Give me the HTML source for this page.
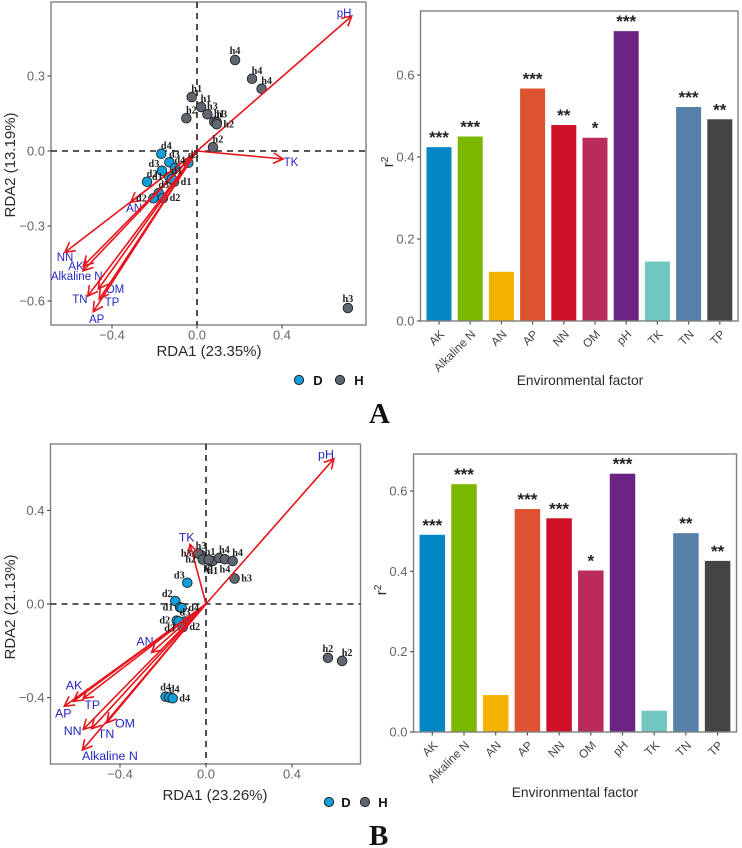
<!DOCTYPE html>
<html>
<head>
<meta charset="utf-8">
<title>RDA ordination and environmental factor r-squared charts</title>
<style>
html,body{margin:0;padding:0;background:#fff;}
svg{display:block;filter:blur(0.3px);}
text{font-family:"Liberation Sans",sans-serif;}
.tick{font-size:13px;fill:#666;}
.title{font-size:15px;fill:#2a2a2a;}
.xcat{font-size:11.8px;fill:#444;}
.pt{font-family:"Liberation Serif",serif;font-size:10.2px;font-weight:bold;fill:#222;}
.env{fill:#2626c4;}
.stars{font-size:17px;font-weight:bold;fill:#222;}
.panel-letter{font-family:"Liberation Serif",serif;font-size:29px;font-weight:bold;fill:#111;}
.legend{font-size:13px;font-weight:bold;fill:#111;}
</style>
</head>
<body>
<svg id="fig" xmlns="http://www.w3.org/2000/svg" width="742" height="848" viewBox="0 0 742 848">
  <rect x="0" y="0" width="742" height="848" fill="#fff"/>
  <text class="panel-letter" x="369" y="423">A</text>
  <text class="panel-letter" x="369" y="845">B</text>
  <circle cx="299" cy="380" r="4.6" fill="#119fdc" stroke="#222"/>
  <text class="legend" x="318" y="385" text-anchor="middle">D</text>
  <circle cx="340" cy="380" r="4.6" fill="#5f6670" stroke="#222"/>
  <text class="legend" x="359" y="385" text-anchor="middle">H</text>
  <circle cx="329" cy="802" r="4.6" fill="#119fdc" stroke="#222"/>
  <text class="legend" x="346" y="807" text-anchor="middle">D</text>
  <circle cx="365" cy="802" r="4.6" fill="#5f6670" stroke="#222"/>
  <text class="legend" x="383" y="807" text-anchor="middle">H</text>
</svg>
<script>
// ---------- Panel A ordination ----------
const aEnvNames = ['pH','TK','AN','NN','AK','Alkaline N','TN','OM','TP','AP'];
const aEnvRda1 = [0.728,0.405,-0.312,-0.621,-0.535,-0.536,-0.514,-0.464,-0.46,-0.488];
const aEnvRda2 = [0.54,-0.032,-0.205,-0.405,-0.46,-0.479,-0.58,-0.552,-0.593,-0.643];
const aEnvLabelRda1 = [0.692,0.442,-0.296,-0.621,-0.569,-0.566,-0.551,-0.386,-0.4,-0.472];
const aEnvLabelRda2 = [0.552,-0.044,-0.228,-0.424,-0.46,-0.5,-0.592,-0.552,-0.604,-0.672];
const aSampleNames = ['h4','h4','h4','h1','h1','h3','h1','h3','h2','h2','h2','h3','d4','d3','d4','d3','d2','d3','d1','d1','d1','d3','d2','d2'];
const aSampleRda1 = [0.179,0.259,0.304,-0.025,0.019,0.049,0.081,0.093,0.093,-0.05,0.075,0.71,-0.168,-0.13,-0.104,-0.165,-0.235,-0.041,-0.13,-0.108,-0.118,-0.18,-0.205,-0.16];
const aSampleRda2 = [0.364,0.289,0.249,0.216,0.176,0.147,0.117,0.115,0.107,0.131,0.015,-0.628,-0.011,-0.045,-0.069,-0.079,-0.123,-0.047,-0.104,-0.123,-0.112,-0.168,-0.189,-0.188];
const aSampleSides = ['n','ne','ne','ne','ne','ne','ne','ne','e','ne','ne','n','ne','ne','ne','nw','ne','ne','w','e','ne','ne','w','e'];
// ---------- Panel B ordination ----------
const bEnvNames = ['pH','TK','AN','AK','AP','TP','NN','TN','OM','Alkaline N'];
const bEnvRda1 = [0.595,-0.074,-0.253,-0.617,-0.659,-0.571,-0.571,-0.532,-0.462,-0.575];
const bEnvRda2 = [0.621,0.255,-0.207,-0.416,-0.437,-0.404,-0.536,-0.533,-0.508,-0.624];
const bEnvLabelRda1 = [0.558,-0.09,-0.284,-0.614,-0.664,-0.529,-0.62,-0.465,-0.377,-0.447];
const bEnvLabelRda2 = [0.638,0.285,-0.16,-0.349,-0.468,-0.431,-0.543,-0.555,-0.511,-0.65];
const bSampleNames = ['h3','h3','h2','h1','h1','h4','h4','h4','h3','h2','h2','d3','d2','d1','d4','d2','d3','d3','d2','d4','d4','d4','h1'];
const bSampleRda1 = [-0.023,-0.036,-0.015,0.019,0.031,0.062,0.088,0.124,0.133,0.567,0.633,-0.087,-0.143,-0.121,-0.113,-0.136,-0.098,-0.127,-0.108,-0.188,-0.171,-0.155,0.012];
const bSampleRda2 = [0.209,0.216,0.19,0.184,0.184,0.197,0.191,0.184,0.109,-0.23,-0.243,0.091,0.013,-0.014,-0.017,-0.071,-0.075,-0.074,-0.099,-0.396,-0.399,-0.403,0.19];
const bSampleSides = ['n','w','w','n','s','ne','s','ne','e','n','ne','nw','nw','w','e','w','n','sw','e','n','ne','e','s'];
// ---------- Bar charts ----------
const factors = ['AK','Alkaline N','AN','AP','NN','OM','pH','TK','TN','TP'];
const aR2 = [0.424,0.45,0.12,0.567,0.478,0.447,0.707,0.145,0.522,0.492];
const aSig = ['***','***','','***','**','*','***','','***','**'];
const bR2 = [0.491,0.617,0.092,0.555,0.532,0.402,0.643,0.053,0.495,0.426];
const bSig = ['***','***','','***','***','*','***','','**','**'];
const aR2Ticks = [0,0.2,0.4,0.6];
const bR2Ticks = [0,0.2,0.4,0.6];
const aRda1Ticks = [-0.4,0,0.4];
const aRda2Ticks = [0.3,0,-0.3,-0.6];
const bRda1Ticks = [-0.4,0,0.4];
const bRda2Ticks = [0.4,0,-0.4];

const barPalette = {'AK':'#0386c3','Alkaline N':'#7cb800','AN':'#f4b100','AP':'#dd5331','NN':'#ce1126','OM':'#b92b5b','pH':'#6c2383','TK':'#71c7bf','TN':'#5680a9','TP':'#444444'};
const svg = document.getElementById('fig');
const NS = 'http://www.w3.org/2000/svg';
const SIDE_DX = {n:0,s:0,e:12,w:-12,ne:5,nw:-8,se:6,sw:-9};
const SIDE_DY = {n:-9,s:10,e:0,w:0,ne:-8,nw:-7,se:8,sw:7};

function fmt(v){ return (v<0?'\u2212':'')+Math.abs(v).toFixed(1); }
function slug(s){ return s.toLowerCase().replace(/[^a-z0-9]+/g,'-'); }
function make(tag, parent, props){
  const el = document.createElementNS(NS, tag);
  for(const k in props){ el.setAttribute(k, props[k]); }
  parent.appendChild(el);
  return el;
}

function drawFrame(g, box, prefix){
  const el = make('rect', g, {x:box.l,y:box.t,width:box.r-box.l,height:box.b-box.t,fill:'none',stroke:'#7f7f7f','stroke-width':1.4});
  
  
}

function drawRda(c){
  const g = make('g', svg, {});
  
  
  const sx = v => c.ox + v*c.kx;
  const sy = v => c.oy - v*c.ky;
  drawFrame(g, c.box);
  // axis ticks
  c.xTicks.forEach(v => {
    const t = make('line', g, {x1:sx(v),x2:sx(v),y1:c.box.b,y2:c.box.b+3.5,stroke:'#555','stroke-width':1.2});
    
    
    const l = make('text', g, {x:sx(v),y:c.box.b+14.5,'text-anchor':'middle',class:'tick'});
    l.textContent = fmt(v);
    
    
  });
  c.yTicks.forEach(v => {
    const t = make('line', g, {x1:c.box.l-3.5,x2:c.box.l,y1:sy(v),y2:sy(v),stroke:'#555','stroke-width':1.2});
    
    
    const l = make('text', g, {x:c.box.l-6,y:sy(v)+4.5,'text-anchor':'end',class:'tick'});
    l.textContent = fmt(v);
    
    
  });
  // zero reference lines
  const h0 = make('line', g, {x1:c.box.l,x2:c.box.r,y1:sy(0),y2:sy(0),stroke:'#222','stroke-width':1.6,'stroke-dasharray':'6 5'});
  
  
  const v0 = make('line', g, {x1:sx(0),x2:sx(0),y1:c.box.t,y2:c.box.b,stroke:'#222','stroke-width':1.6,'stroke-dasharray':'6 5'});
  
  
  // sample points
  c.sNames.forEach((n,i) => {
    const p = make('circle', g, {cx:sx(c.sX[i]),cy:sy(c.sY[i]),r:4.8,fill:n[0]==='d'?'#119fdc':'#5f6670',stroke:'#222','stroke-width':0.9});
    
    
  });
  // environmental arrows
  c.eNames.forEach((n,i) => {
    const x1 = sx(c.eX[i]), y1 = sy(c.eY[i]);
    const x0 = sx(0), y0 = sy(0);
    const line = make('line', g, {x1:x0,y1:y0,x2:x1,y2:y1,stroke:'#e8141c','stroke-width':1.6});
    
    
    const a = Math.atan2(y1-y0,x1-x0);
    const len = 11, sp = 0.5;
    const d = 'M'+(x1-len*Math.cos(a-sp))+' '+(y1-len*Math.sin(a-sp))+'L'+x1+' '+y1+'L'+(x1-len*Math.cos(a+sp))+' '+(y1-len*Math.sin(a+sp));
    const head = make('path', g, {d:d,fill:'none',stroke:'#e8141c','stroke-width':1.6});
    
    
    const t = make('text', g, {x:sx(c.eLX[i]),y:sy(c.eLY[i])+4,'text-anchor':'middle',class:'env','font-size':c.envFont});
    t.textContent = n;
    
    
  });
  // sample labels
  c.sNames.forEach((n,i) => {
    const s = c.sSides[i];
    const t = make('text', g, {x:sx(c.sX[i])+SIDE_DX[s],y:sy(c.sY[i])+SIDE_DY[s]+3,'text-anchor':'middle',class:'pt'});
    t.textContent = n;
    
    
  });
  const xt = make('text', g, {x:c.xTitleX,y:c.xTitleY,'text-anchor':'middle',class:'title'});
  xt.textContent = c.xTitle;
  
  
  const yt = make('text', g, {transform:'translate(15 '+c.yTitleY+') rotate(-90)','text-anchor':'middle',class:'title'});
  yt.textContent = c.yTitle;
  
  
}

function drawBars(c){
  const g = make('g', svg, {});
  
  
  const sy = v => c.box.b - v*c.ky;
  const sx = i => c.x0 + i*c.step;
  factors.forEach((f,i) => {
    const b = make('rect', g, {x:sx(i)-c.bw/2,y:sy(c.vals[i]),width:c.bw,height:c.box.b-sy(c.vals[i]),fill:barPalette[f]});
    
    
    if(c.sig[i]){
      const s = make('text', g, {x:sx(i),y:sy(c.vals[i])-4,'text-anchor':'middle',class:'stars'});
      s.textContent = c.sig[i];
      
      
    }
    const t = make('line', g, {x1:sx(i),x2:sx(i),y1:c.box.b,y2:c.box.b+3.5,stroke:'#555','stroke-width':1.2});
    
    
    const l = make('text', g, {transform:'translate('+(sx(i)+6)+' '+(c.box.b+14)+') rotate(-45)','text-anchor':'end',class:'xcat'});
    l.textContent = f;
    
    
  });
  drawFrame(g, c.box);
  c.ticks.forEach(v => {
    const t = make('line', g, {x1:c.box.l-3.5,x2:c.box.l,y1:sy(v),y2:sy(v),stroke:'#555','stroke-width':1.2});
    
    
    const l = make('text', g, {x:c.box.l-6,y:sy(v)+4.5,'text-anchor':'end',class:'tick'});
    l.textContent = fmt(v);
    
    
  });
  const xt = make('text', g, {x:c.xTitleX,y:c.xTitleY,'text-anchor':'middle',class:'title',style:'font-size:13.8px'});
  xt.textContent = 'Environmental factor';
  
  
  const yt = make('text', g, {transform:'translate('+c.yTitleX+' '+c.yTitleY+') rotate(-90)','text-anchor':'middle',class:'title'});
  
  
  const r = make('tspan', yt, {});
  r.textContent = 'r';
  const sq = make('tspan', yt, {dy:-5,style:'font-size:10px'});
  sq.textContent = '2';
}

drawRda({id:'panel-a',box:{l:51,t:2,r:366,b:325},ox:197,oy:151,kx:212.5,ky:250,
  xTicks:aRda1Ticks,yTicks:aRda2Ticks,
  eNames:aEnvNames,eX:aEnvRda1,eY:aEnvRda2,eLX:aEnvLabelRda1,eLY:aEnvLabelRda2,
  sNames:aSampleNames,sX:aSampleRda1,sY:aSampleRda2,sSides:aSampleSides,
  envFont:'11.5px',xTitle:'RDA1 (23.35%)',xTitleX:209,xTitleY:356,yTitle:'RDA2 (13.19%)',yTitleY:165});
drawRda({id:'panel-b',box:{l:50.5,t:444,r:360.5,b:764},ox:206,oy:604,kx:215,ky:234,
  xTicks:bRda1Ticks,yTicks:bRda2Ticks,
  eNames:bEnvNames,eX:bEnvRda1,eY:bEnvRda2,eLX:bEnvLabelRda1,eLY:bEnvLabelRda2,
  sNames:bSampleNames,sX:bSampleRda1,sY:bSampleRda2,sSides:bSampleSides,
  envFont:'12.4px',xTitle:'RDA1 (23.26%)',xTitleX:215,xTitleY:800,yTitle:'RDA2 (21.13%)',yTitleY:607});
drawBars({id:'panel-a',box:{l:420.5,t:11,r:738,b:321},ky:410,x0:439,step:31.2,bw:25,
  vals:aR2,sig:aSig,ticks:aR2Ticks,xTitleX:580,xTitleY:385,yTitleX:393,yTitleY:162});
drawBars({id:'panel-b',box:{l:413.5,t:454,r:736.5,b:732},ky:401.7,x0:432.3,step:31.7,bw:25.5,
  vals:bR2,sig:bSig,ticks:bR2Ticks,xTitleX:575,xTitleY:797,yTitleX:386,yTitleY:590});
</script>
</body>
</html>
